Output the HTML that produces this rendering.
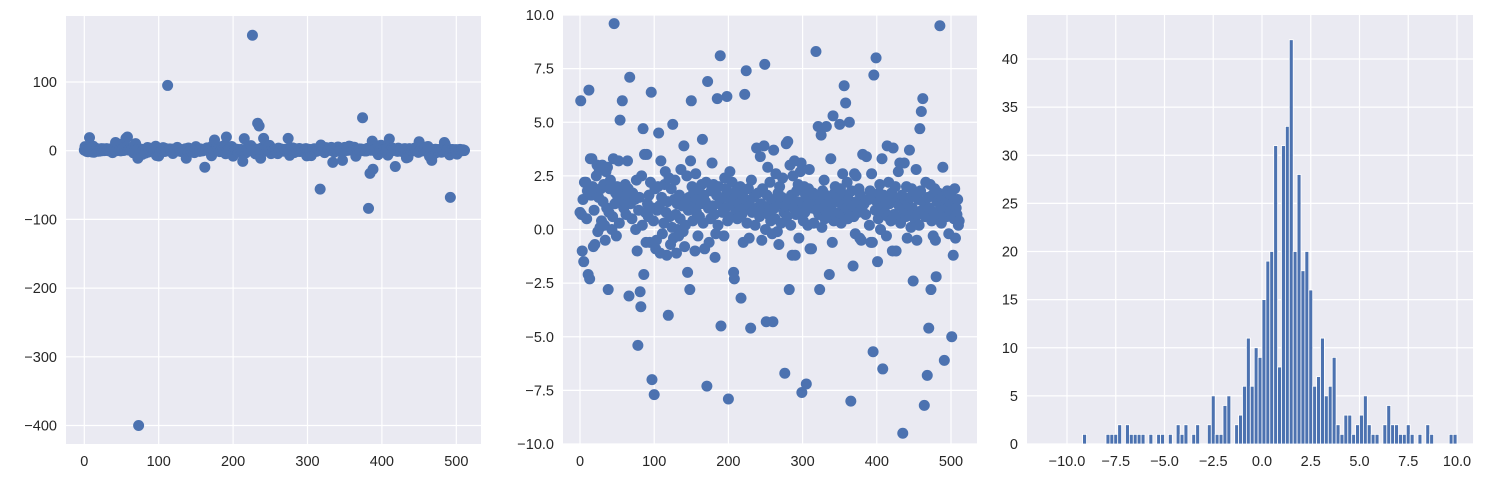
<!DOCTYPE html>
<html><head><meta charset="utf-8">
<style>
html,body{margin:0;padding:0;background:#fff;}
svg{display:block;font-family:"Liberation Sans",sans-serif;}
text{fill:#262626;font-size:14.5px;}
</style></head>
<body>
<svg id="fig" width="1485" height="483" viewBox="0 0 1485 483" xmlns="http://www.w3.org/2000/svg"></svg>
<script>
const values = [
0.8,6.0,0.7,-1.0,1.4,-1.5,2.2,19,2.2,0.5,1.8,-2.1,6.5,-2.3,3.3,1.6,
3.3,2.0,-0.8,0.9,-0.7,1.7,2.5,3.0,-0.1,1.5,2.8,0.1,1.9,0.4,3.0,1.3,
2.1,0.2,-0.5,2.7,1.0,2.9,-2.8,0.8,1.9,2.3,12,0.0,0.6,3.3,9.6,1.2,
1.7,-0.3,2.0,1.5,3.2,0.3,5.1,1.8,18,6.0,20,1.0,1.3,2.1,0.7,1.6,
3.2,1.9,-3.1,7.1,1.2,10.3,0.5,1.7,-11,-400,1.4,0.0,2.3,-1.0,-5.4,0.9,
1.5,-2.9,-3.6,2.5,0.2,4.7,-2.1,3.5,0.8,-0.6,3.5,1.2,0.6,1.6,-0.6,2.2,
6.4,-7.0,1.0,0.4,-7.7,1.9,-0.9,-0.5,0.9,2.0,4.5,1.1,-1.1,3.2,1.5,-0.2,
95,0.3,2.1,2.7,0.8,-1.2,1.3,-4.0,2.4,0.6,-0.7,1.9,0.1,4.9,-0.4,1.4,
2.3,0.7,-1.1,1.2,0.0,-0.3,1.6,0.5,2.8,-11,1.1,-0.1,3.9,-0.8,0.2,1.3,
2.5,-2.0,0.9,1.5,-2.8,3.2,6.0,2.0,0.4,1.7,1.1,-1.0,2.6,0.8,1.4,-0.3,
1.9,0.6,-24,1.2,2.1,4.2,0.3,1.6,-0.9,1.3,2.2,-7.3,6.9,1.0,-0.6,15.5,
0.5,1.8,3.1,1.1,2.1,0.7,-1.3,-0.2,1.6,6.1,0.2,2.0,1.2,8.1,-4.5,20,
0.8,1.5,-0.3,2.4,1.0,1.9,6.2,0.4,-7.9,1.7,2.7,1.3,0.6,2.2,1.1,-2.0,
-2.3,1.5,0.9,1.8,0.5,-15.5,1.2,17.5,2.0,-3.2,0.7,1.6,-0.6,1.0,6.3,1.4,
7.4,0.3,168,1.9,-0.4,1.1,-4.6,2.3,0.8,40,1.5,36,0.2,-11,3.8,1.0,
1.7,18,0.6,3.4,1.2,-0.5,1.9,0.9,3.9,7.7,0.0,-4.3,1.6,2.9,0.7,1.1,
2.2,0.4,1.4,-0.2,-4.3,3.7,1.0,0.5,2.6,1.3,-0.1,1.7,-0.7,2.0,1.2,0.3,
1.5,2.4,18,0.8,-6.7,1.1,4.0,0.6,4.1,1.4,-2.8,3.0,0.2,1.6,-1.2,2.5,
1.0,3.2,-1.2,0.7,1.8,1.3,2.1,-0.4,0.9,2.7,3.1,-7.6,1.2,0.4,2.0,0.8,
1.6,-7.2,1.1,0.2,1.9,2.8,-0.9,1.4,-0.9,1.0,1.7,0.3,1.2,-56,8.3,0.9,
1.5,4.8,0.7,-2.8,1.3,4.4,0.1,1.8,1.0,2.3,0.5,1.6,4.8,1.2,-17,0.8,
-2.1,1.4,3.3,0.9,-0.6,5.3,0.4,1.7,2.0,0.6,1.3,-14,1.5,0.8,4.9,1.9,
0.3,1.2,2.6,0.7,6.7,1.6,5.9,1.0,2.2,0.5,1.4,5.0,0.9,-8.0,1.8,1.1,
-1.7,0.6,2.6,-0.2,2.5,1.3,48,0.8,1.9,-0.4,1.6,-0.5,1.0,3.5,-84,1.2,
-33,0.7,3.4,14,-27,1.4,0.2,1.8,-0.6,2.6,-0.6,-5.7,7.2,1.5,0.9,8.0,
1.3,-1.5,0.5,1.7,2.1,0.0,1.0,3.3,-6.5,1.6,17,0.8,1.4,-0.3,3.9,0.6,
2.2,1.2,-23,0.4,1.7,-1.0,3.8,0.7,1.5,2.0,-1.0,1.3,0.5,2.7,1.1,3.1,
0.3,-10.5,1.6,-9.5,0.9,3.1,1.4,0.6,2.0,-0.4,1.2,0.8,3.7,1.5,0.1,1.9,
1.0,-2.4,13,0.5,1.7,2.8,-0.5,0.7,1.4,0.2,4.7,1.8,5.5,0.9,6.1,1.3,
-8.2,0.6,2.2,-14,-6.8,1.5,-4.6,1.0,2.1,-2.8,0.4,1.6,-0.3,0.8,1.9,-0.5,
-2.2,1.3,0.7,1.7,12,9.5,1.1,0.3,1.5,2.9,0.9,-6.1,-68,1.4,0.6,1.8,
1.0,-0.2,1.3,0.8,1.6,-5.0,1.2,-1.2,0.5,1.9,-0.4,1.0,0.7,1.4,0.2,0.4
];
const histCounts = [
0,0,0,0,1,0,0,0,0,0,1,1,1,2,0,2,1,1,1,1,
0,1,0,1,1,0,1,0,2,1,2,0,1,2,0,0,2,5,1,1,
4,5,0,2,3,6,11,6,10,9,15,19,20,31,8,31,33,42,20,28,
18,20,16,6,7,11,5,6,9,2,1,3,3,1,2,3,5,2,1,1,
0,2,4,2,2,1,1,2,1,0,1,0,2,1,0,0,0,0,1,1
];
const histStart = -10, histBinWidth = 0.2;
const p1XTicks = [0,100,200,300,400,500];
const p1YTicks = [100,0,-100,-200,-300,-400];
const p2XTicks = [0,100,200,300,400,500];
const p2YTicks = [-10,-7.5,-5,-2.5,0,2.5,5,7.5,10];
const p3XTicks = [-10,-7.5,-5,-2.5,0,2.5,5,7.5,10];
const p3YTicks = [0,5,10,15,20,25,30,35,40];

const NS = "http://www.w3.org/2000/svg";
const svg = document.getElementById('fig');
const BLUE = "#4c72b0";
function mk(tag, attrs, parent){
  const e = document.createElementNS(NS, tag);
  for (const k in attrs) e.setAttribute(k, attrs[k]);
  (parent||svg).appendChild(e);
  return e;
}
function fmt(v, dec){
  const s = dec ? Math.abs(v).toFixed(1) : String(Math.abs(v));
  return (v < 0 ? "\u2212" : "") + s;
}
function linear(d0, d1, r0, r1){ return v => r0 + (v - d0) * (r1 - r0) / (d1 - d0); }

function panel(name, box, xs, ys, xTicks, yTicks, xdec, ydec){
  const g = mk('g', {});
  
  
  const bg = mk('rect', {x:box.x0, y:box.y0, width:box.x1-box.x0, height:box.y1-box.y0, fill:'#eaeaf2'}, g);
  
  
  xTicks.forEach(t => {
    const x = xs(t);
    const l = mk('line', {x1:x, x2:x, y1:box.y0, y2:box.y1, stroke:'#fff', 'stroke-width':1.2}, g);
    
    
    const tx = mk('text', {x:x, y:box.y1 + 22, 'text-anchor':'middle'}, g);
    
    
    tx.textContent = fmt(t, xdec);
  });
  yTicks.forEach(t => {
    const y = ys(t);
    const l = mk('line', {x1:box.x0, x2:box.x1, y1:y, y2:y, stroke:'#fff', 'stroke-width':1.2}, g);
    
    
    const tx = mk('text', {x:box.x0 - 9, y:y + 5, 'text-anchor':'end'}, g);
    
    
    tx.textContent = fmt(t, ydec);
  });
  return g;
}

// Panel 1: full scatter
const b1 = {x0:66, x1:481, y0:16, y1:444};
const x1 = linear(0, 500, 84.3, 456.3);
const y1 = linear(0, 100, 150.7, 82.0);
const g1 = panel('scatter-full-panel', b1, x1, y1, p1XTicks, p1YTicks, false, false);
const d1 = mk('g', {}, g1);


values.forEach((v, i) => {
  const c = mk('circle', {cx:x1(i), cy:y1(v), r:5.5, fill:BLUE}, d1);
  
  
});

// Panel 2: clipped scatter
const b2 = {x0:563, x1:977, y0:15, y1:444};
const x2 = linear(0, 500, 580, 951);
const y2 = linear(-10, 10, 444, 15);
const g2 = panel('scatter-zoom-panel', b2, x2, y2, p2XTicks, p2YTicks, false, true);
const defs = mk('defs', {}, g2);
const cp = mk('clipPath', {id:'clip2'}, defs);
mk('rect', {x:b2.x0, y:b2.y0, width:b2.x1-b2.x0, height:b2.y1-b2.y0}, cp);
const d2 = mk('g', {'clip-path':'url(#clip2)'}, g2);


values.forEach((v, i) => {
  if (v < -12 || v > 12) return;
  const c = mk('circle', {cx:x2(i), cy:y2(v), r:5.5, fill:BLUE}, d2);
  
  
});

// Panel 3: histogram
const b3 = {x0:1027, x1:1473, y0:15, y1:444};
const x3 = linear(-10, 10, 1067, 1457);
const y3 = linear(0, 40, 444, 59);
const g3 = panel('histogram-panel', b3, x3, y3, p3XTicks, p3YTicks, true, false);
const d3 = mk('g', {}, g3);


histCounts.forEach((c, k) => {
  if (!c) return;
  const left = histStart + k * histBinWidth;
  const xa = x3(left), xb = x3(left + histBinWidth);
  const r = mk('rect', {x:xa, y:y3(c), width:xb - xa, height:y3(0) - y3(c), fill:BLUE, stroke:'#fff', 'stroke-width':0.8}, d3);
  
  
});
</script>
</body></html>
